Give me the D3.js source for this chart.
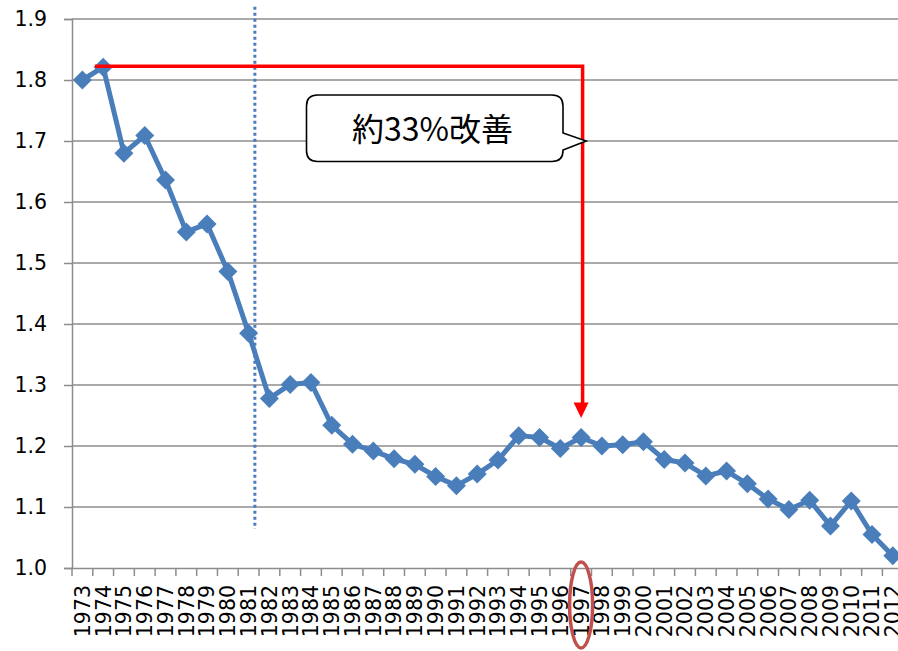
<!DOCTYPE html>
<html>
<head>
<meta charset="utf-8">
<script src="https://cdn.jsdelivr.net/npm/d3@7"></script>
<style>
html,body{margin:0;padding:0;background:#fff;}
svg{display:block;}
</style>
</head>
<body>
<svg id="chart" width="898" height="651"></svg>
<script>
// ---- data ----
const years = [];
for (let yr = 1973; yr <= 2012; yr++) years.push(String(yr));
const values = [1.800, 1.821, 1.680, 1.709, 1.636, 1.551, 1.564, 1.486, 1.385, 1.278,
                1.301, 1.304, 1.234, 1.203, 1.192, 1.179, 1.170, 1.150, 1.135, 1.154,
                1.177, 1.217, 1.214, 1.196, 1.214, 1.200, 1.202, 1.207, 1.178, 1.172,
                1.151, 1.159, 1.138, 1.113, 1.096, 1.111, 1.069, 1.110, 1.055, 1.020];
const yTicks = [1.0, 1.1, 1.2, 1.3, 1.4, 1.5, 1.6, 1.7, 1.8, 1.9];
const calloutText = "約33%改善";
const fromYear = "1974", toYear = "1997", dividerYear = "1981";

// ---- layout ----
const svg = d3.select("#chart");
const mLeft = 72, mRight = 903.2, mTop = 19, mBottom = 568;
const x = d3.scaleBand().domain(years).range([mLeft, mRight]).padding(0);
const y = d3.scaleLinear().domain([1.0, 1.9]).range([mBottom, mTop]);
const cx = d => x(d) + x.bandwidth() / 2;
const blue = "#4a7ebb", grid = "#8c8c8c";
const font = "'DejaVu Sans', Verdana, sans-serif";

// gridlines
svg.append("g").selectAll("line").data(yTicks.slice(1)).join("line")
  .attr("x1", mLeft).attr("x2", 898).attr("y1", d => y(d)).attr("y2", d => y(d))
  .attr("stroke", grid).attr("stroke-width", 1.5);

// y axis
const yAxis = svg.append("g").attr("transform", `translate(${mLeft},0)`)
  .call(d3.axisLeft(y).tickValues(yTicks).tickFormat(d3.format(".1f")).tickSize(8).tickPadding(17));
yAxis.select(".domain").attr("stroke", grid).attr("stroke-width", 1.5);
yAxis.selectAll(".tick line").attr("stroke", grid).attr("stroke-width", 1.5);
yAxis.selectAll("text").attr("font-family", font).attr("font-size", "20.5px").attr("fill", "#000");

// x axis
const xAxis = svg.append("g").attr("transform", `translate(0,${mBottom})`)
  .call(d3.axisBottom(x).tickSize(0).tickPadding(0));
xAxis.select(".domain").attr("stroke", grid).attr("stroke-width", 1.5);
xAxis.selectAll("text")
  .attr("font-family", font).attr("font-size", "20.5px").attr("fill", "#000")
  .attr("transform", "rotate(-90)")
  .attr("text-anchor", "end")
  .attr("x", -17).attr("y", 0).attr("dy", "0.36em");
// boundary ticks
const bounds = years.map(d => x(d)).concat([mRight]);
svg.append("g").selectAll("line").data(bounds).join("line")
  .attr("x1", d => d).attr("x2", d => d).attr("y1", mBottom).attr("y2", mBottom + 8)
  .attr("stroke", grid).attr("stroke-width", 1.5);

// dotted divider
const divX = x(dividerYear) + x.bandwidth() * 0.8;
svg.append("line")
  .attr("x1", divX).attr("x2", divX).attr("y1", y(1.92)).attr("y2", y(1.064))
  .attr("stroke", blue).attr("stroke-width", 3).attr("stroke-dasharray", "3,3");

// series line
const line = d3.line().x((d, i) => cx(years[i])).y(d => y(d));
svg.append("path").datum(values).attr("d", line)
  .attr("fill", "none").attr("stroke", blue).attr("stroke-width", 5).attr("stroke-linejoin", "round");
const r = 9.5;
svg.append("g").selectAll("path").data(values).join("path")
  .attr("d", (d, i) => {
    const px = cx(years[i]), py = y(d);
    return `M${px},${py - r}L${px + r},${py}L${px},${py + r}L${px - r},${py}Z`;
  })
  .attr("fill", blue);

// red bracket + arrow
const iFrom = years.indexOf(fromYear), iTo = years.indexOf(toYear);
const redY = y(values[iFrom]) - 1;
const ax = cx(toYear);
const tipY = y(values[iTo]) - 19.5;
svg.append("path")
  .attr("d", `M${cx(fromYear) - x.bandwidth() * 0.4},${redY}H${ax + 1.5}V${tipY - 14}`)
  .attr("fill", "none").attr("stroke", "#ff0000").attr("stroke-width", 3.5);
svg.append("path")
  .attr("d", `M${ax - 7.5},${tipY - 15.5}L${ax + 7.5},${tipY - 15.5}L${ax},${tipY}Z`)
  .attr("fill", "#ff0000");

// callout
const bx0 = 306.5, by0 = 95, bx1 = 563, by1 = 161.5, rr = 11;
const tipX = ax + 5, tipYc = 141;
const callout = `M${bx0 + rr},${by0}H${bx1 - rr}Q${bx1},${by0} ${bx1},${by0 + rr}V133L${tipX},${tipYc}L${bx1},150V${by1 - rr}Q${bx1},${by1} ${bx1 - rr},${by1}H${bx0 + rr}Q${bx0},${by1} ${bx0},${by1 - rr}V${by0 + rr}Q${bx0},${by0} ${bx0 + rr},${by0}Z`;
svg.append("path").attr("d", callout).attr("fill", "#fff").attr("stroke", "#000").attr("stroke-width", 1.6);
svg.append("text").attr("x", 432.5).attr("y", 129).attr("dy", "0.36em")
  .attr("text-anchor", "middle").attr("font-family", "'Noto Sans CJK JP', sans-serif")
  .attr("font-size", "32px").attr("fill", "#000").text(calloutText);

// ellipse around highlighted year label
svg.append("ellipse").attr("cx", cx(toYear)).attr("cy", 605).attr("rx", 11.5).attr("ry", 43)
  .attr("fill", "none").attr("stroke", "#c0504d").attr("stroke-width", 3.5);
</script>
</body>
</html>
